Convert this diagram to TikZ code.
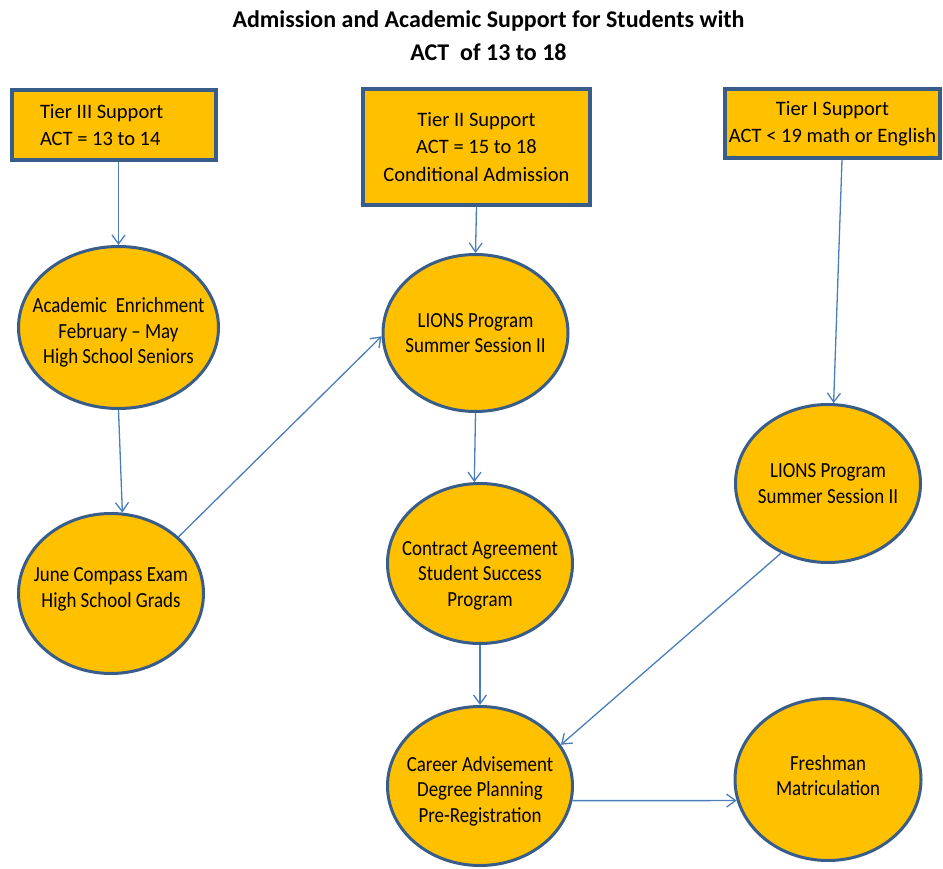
\documentclass[tikz,border=0pt]{standalone}
\usepackage{fontspec}
\setmainfont{Carlito}
\newfontfamily\ovalfont{Carlito}[FakeStretch=0.88]
\usetikzlibrary{shapes.geometric,arrows.meta,calc}
\definecolor{gold}{HTML}{FFC000}
\definecolor{edgeblue}{HTML}{385D8A}
\definecolor{arrowblue}{HTML}{4A7EBB}
\begin{document}
\begin{tikzpicture}[x=1pt,y=-1pt,
  box/.style={draw=edgeblue,line width=3.5pt,fill=gold,inner sep=0pt,align=center,font=\fontsize{20.5}{27.5}\selectfont},
  oval/.style={ellipse,draw=edgeblue,line width=3pt,fill=gold,inner sep=0pt},
  otext/.style={align=center,font=\ovalfont\fontsize{21.5}{25.5}\selectfont},
  arr/.style={draw=arrowblue,line width=1.3pt,-{Straight Barb[length=9pt,width=13pt]}}
]
\useasboundingbox (0,0) rectangle (943,869);

\node[font=\bfseries\fontsize{24}{33}\selectfont,align=center] (title) at (488.5,36)
  {Admission and Academic Support for Students with\\ACT~ of 13 to 18};

\node[box,align=flush left,text width=148pt,inner xsep=28pt,minimum height=70pt] (t3) at (114,125)
  {Tier III Support\\ACT = 13 to 14};
\node[box,minimum width=227pt,minimum height=116pt] (t2) at (476.5,147)
  {Tier II Support\\ACT = 15 to 18\\Conditional Admission};
\node[box,minimum width=215pt,minimum height=69pt] (t1) at (832.5,123.5)
  {Tier I Support\\ACT < 19 math or English};

\node[oval,minimum width=200pt,minimum height=162pt,
  label={[otext,yshift=-5pt]center:{Academic~ Enrichment\\February – May\\High School Seniors}}] (acad) at (118.5,327.5) {};
\node[oval,minimum width=185pt,minimum height=160pt,
  label={[otext,yshift=4pt]center:{June Compass Exam\\High School Grads}}] (june) at (111,593.5) {};
\node[oval,minimum width=185pt,minimum height=157pt,
  label={[otext]center:{LIONS Program\\Summer Session II}}] (lm) at (475.5,333) {};
\node[oval,minimum width=185pt,minimum height=160pt,
  label={[otext,yshift=-12pt]center:{Contract Agreement\\Student Success\\Program}}] (contract) at (480,563.5) {};
\node[oval,minimum width=185pt,minimum height=159pt,
  label={[otext,yshift=-5pt]center:{Career Advisement\\Degree Planning\\Pre-Registration}}] (career) at (480,786) {};
\node[oval,minimum width=185pt,minimum height=158pt,
  label={[otext]center:{LIONS Program\\Summer Session II}}] (lr) at (828,483.5) {};
\node[oval,minimum width=186pt,minimum height=162pt,
  label={[otext,yshift=4pt]center:{Freshman\\Matriculation}}] (fresh) at (828,779.5) {};

\draw[arr] (t3.south -| acad.north) -- (acad.north);
\draw[arr] (t2.south) -- (lm.north);
\draw[arr] (acad.south) -- (june.82);
\draw[arr] (june.40) -- (lm.182);
\draw[arr] (lm.south) -- (contract.94);
\draw[arr] ($(t1.south)+(9.5,0)$) -- (lr.86);
\draw[arr] (contract.south) -- (career.north);
\draw[arr] (lr.236) -- (career.27);
\draw[arr] (career.-9) -- (fresh.193);
\end{tikzpicture}
\end{document}
